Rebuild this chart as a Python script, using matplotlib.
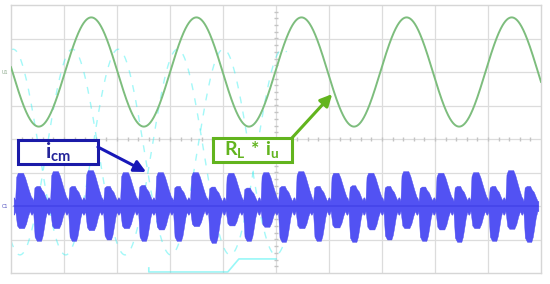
import numpy as np
import matplotlib
matplotlib.use("Agg")
import matplotlib.pyplot as plt
from matplotlib.patches import Rectangle

plt.rcParams['mathtext.fontset'] = 'custom'
plt.rcParams['mathtext.bf'] = 'Lato:bold'
plt.rcParams['mathtext.rm'] = 'Lato'

# ---------------- data (divisions, read from the screen) ----------------
# green channel: R_L * i_u  (sine)
sine_offset = 2.0          # div
sine_amp = 1.63            # div
sine_period = 1.983        # div
sine_peak_x = 1.515        # div (first positive peak)

# blue channel: i_cm  (bursts)
icm_offset = -2.0
up_x = [0.17, 0.83, 1.49, 2.15, 2.81, 3.47, 4.14, 4.80, 5.46, 6.12, 6.78, 7.44, 8.10, 8.76, 9.42]
up_top = [0.99, 1.04, 1.07, 1.01, 1.01, 1.01, 0.99, 1.01, 1.04, 0.99, 0.99, 1.04, 0.99, 1.01, 1.07]
up_bot = [-0.66, -0.66, -0.72, -0.66, -0.70, -0.60, -0.58, -0.62, -0.66, -0.64, -0.70, -0.66, -0.70, -0.66, -0.68]
down_x = [0.51, 1.17, 1.83, 2.49, 3.15, 3.81, 4.47, 5.13, 5.79, 6.46, 7.12, 7.78, 8.44, 9.10, 9.76]
down_top = [0.60, 0.60, 0.60, 0.63, 0.60, 0.58, 0.55, 0.60, 0.60, 0.62, 0.60, 0.58, 0.60, 0.60, 0.60]
down_bot = [-1.04, -1.04, -1.00, -1.04, -1.04, -1.10, -1.04, -1.07, -1.04, -1.07, -1.00, -1.04, -1.07, -1.04, -1.07]
ring_level = 0.15

# faint ghost channel (cyan)
ghost_offset = -0.39
ghost_amp = 3.07
ghost_peak_x = [0.04, 1.16]

# ---------------- burst shape templates (px relative to burst peak) -------
PX = 53.0
up_u_dx = [-4.8, -3.8, -2.2, 3.0, 5.0, 7.0, 9.0, 11.0, 12.5]
up_u_v = [0.2, 0.88, 1.0, 1.0, 0.86, 0.66, 0.46, 0.28, 0.15]
up_l_dx = [-4.8, -3.0, -1.0, 4.0, 6.0, 8.0, 10.0]
up_l_v = [0.2, 0.88, 1.0, 1.0, 0.8, 0.45, 0.2]
dn_u_dx = [-4.8, -3.6, -1.5, 1.8, 3.5, 5.5, 7.5, 9.5]
dn_u_v = [0.22, 0.92, 1.0, 1.0, 0.82, 0.7, 0.45, 0.22]
dn_l_dx = [-4.8, -3.4, -1.2, 3.0, 4.5, 6.0, 7.5, 9.0]
dn_l_v = [0.18, 0.88, 1.0, 1.0, 0.86, 0.6, 0.32, 0.15]

fig = plt.figure(figsize=(5.5, 2.84), dpi=100)
ax = fig.add_axes([11/550, 11/284, 530/550, 268/284])
ax.set_xlim(0, 10)
ax.set_ylim(-4, 4)
ax.set_xticks([]); ax.set_yticks([])
for s in ax.spines.values():
    s.set_color('#d6d6d6'); s.set_linewidth(1.0)

grid_c = '#dcdcdc'
for gx in range(1, 10):
    ax.axvline(gx, color=grid_c, lw=0.9, zorder=0)
for gy in range(-3, 4):
    ax.axhline(gy, color=grid_c, lw=0.9, zorder=0)
mt = np.arange(0.2, 10, 0.2)
ax.plot(mt, np.zeros_like(mt), ls='none', marker='|', ms=2.5, color='#c4c4c4', zorder=0)
mty = np.arange(-3.8, 4, 0.2)
ax.plot(np.full_like(mty, 5.0), mty, ls='none', marker='_', ms=2.5, color='#c4c4c4', zorder=0)

# ghost cyan trace
xg = np.linspace(0, 5.2, 1500)
for pk in ghost_peak_x:
    yg = ghost_offset + ghost_amp * np.cos(2*np.pi*(xg - pk)/sine_period)
    ax.plot(xg, yg, color='#33f0f0', lw=1.0, alpha=0.45, dashes=(5, 6), zorder=1)
ax.plot([2.6, 2.6, 4.09, 4.3, 5.0], [-3.85, -3.97, -3.97, -3.58, -3.58], color='#33f0f0', lw=1.2, alpha=0.5, zorder=1)

# green sine
xs = np.linspace(0, 10, 3000)
ys = sine_offset + sine_amp*np.cos(2*np.pi*(xs - sine_peak_x)/sine_period)
ax.plot(xs, ys, color='#7dbd7d', lw=1.4, zorder=3)

# blue bursts
xb = np.linspace(0.05, 9.95, 6000)
upper = np.full_like(xb, ring_level)
lower = np.full_like(xb, -ring_level)

def add(c, dxu, vu, top, dxl, vl, bot):
    global upper, lower
    u = np.interp(xb, c + np.array(dxu)/PX, np.array(vu)*top, left=0, right=0)
    l = np.interp(xb, c + np.array(dxl)/PX, np.array(vl)*bot, left=0, right=0)
    upper = np.maximum(upper, u)
    lower = np.minimum(lower, l)

for c, t, b in zip(up_x, up_top, up_bot):
    add(c, up_u_dx, up_u_v, t, up_l_dx, up_l_v, b)
for c, t, b in zip(down_x, down_top, down_bot):
    add(c, dn_u_dx, dn_u_v, t, dn_l_dx, dn_l_v, b)
# small knots between bursts
for c in list(up_x) + list(down_x):
    k = c - 6.5/PX
    bump = 0.26*np.exp(-((xb - k)*PX/2.2)**2)
    upper = np.maximum(upper, bump)
    lower = np.minimum(lower, -bump)

ax.fill_between(xb, icm_offset + lower, icm_offset + upper, color='#5252f3', lw=0.3,
                edgecolor='#4a4aee', zorder=4)
ax.plot(xb, icm_offset + 0.0*xb, color='#3636e2', lw=0.6, zorder=5)

# channel markers
ax.text(-0.12, sine_offset, 'U1', fontsize=3.5, color='#8aa88a', ha='center', va='center', clip_on=False)
ax.text(-0.12, icm_offset, 'C1', fontsize=3.5, color='#5050c0', ha='center', va='center', clip_on=False)

# annotations
ax.add_patch(Rectangle((0.13, -0.75), 1.51, 0.72, fill=True, facecolor='white',
                       edgecolor='#1a1aa8', lw=2.2, zorder=6))
ax.text(0.885, -0.40, r'$\mathbf{i}_{\mathbf{cm}}$', fontsize=15, color='#24249a',
        ha='center', va='center', zorder=7)
ax.annotate('', xy=(2.55, -0.985), xytext=(1.64, -0.24),
            arrowprops=dict(arrowstyle='-|>,head_length=0.7,head_width=0.35', color='#1818b8', lw=2.2,
                            shrinkA=0, shrinkB=0), zorder=7)

ax.add_patch(Rectangle((3.81, -0.69), 1.49, 0.72, fill=True, facecolor='white',
                       edgecolor='#62b41e', lw=2.2, zorder=6))
ax.text(4.55, -0.33, r'$\mathbf{R}_{\mathbf{L}}\ \mathbf{*}\ \mathbf{i}_{\mathbf{u}}$', fontsize=14,
        color='#62b41e', ha='center', va='center', zorder=7)
ax.annotate('', xy=(6.06, 1.34), xytext=(5.30, 0.03),
            arrowprops=dict(arrowstyle='-|>,head_length=0.7,head_width=0.35', color='#62b41e', lw=2.2,
                            shrinkA=0, shrinkB=0), zorder=7)

fig.savefig('out.png', dpi=100)
